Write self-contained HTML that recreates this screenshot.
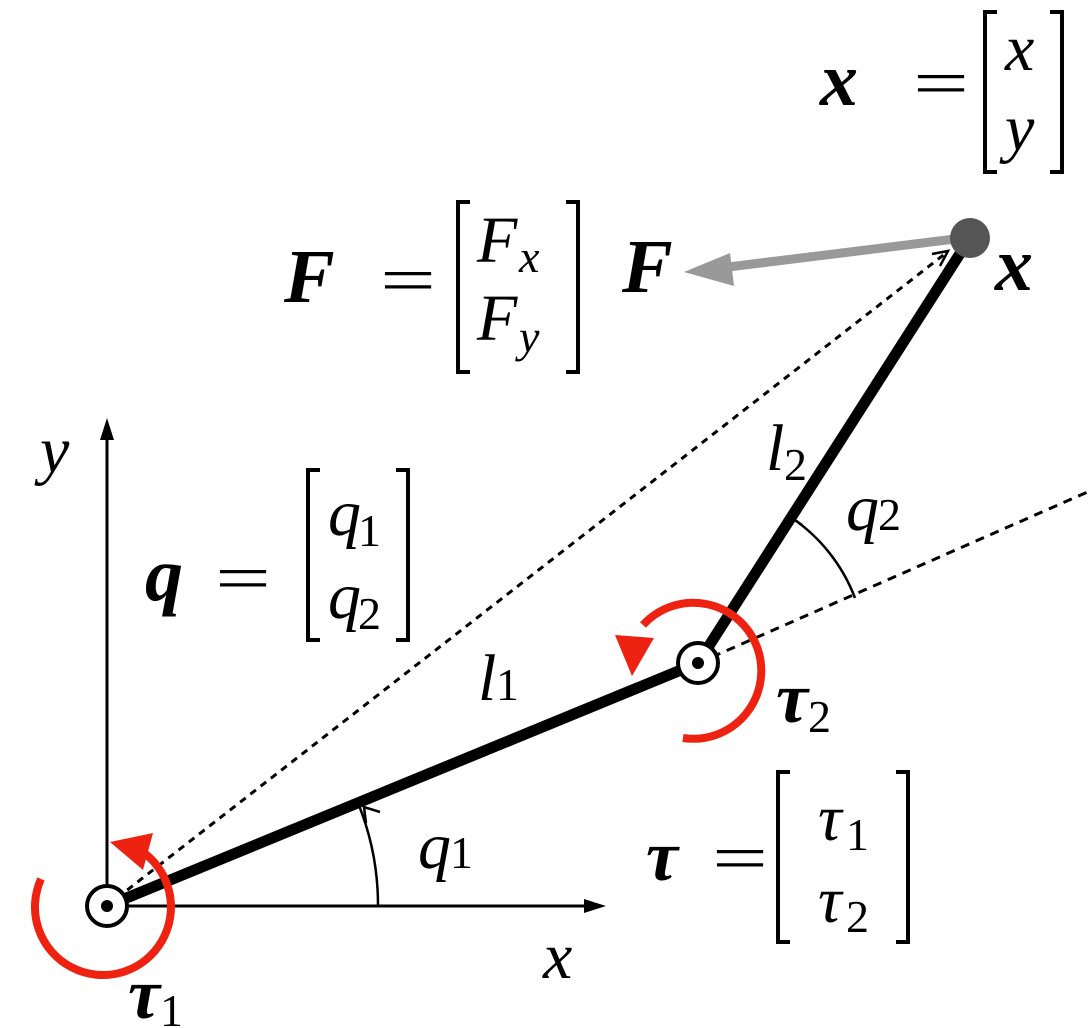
<!DOCTYPE html>
<html><head><meta charset="utf-8"><style>
html,body{margin:0;padding:0;background:#fff}
svg{display:block}
text{font-family:"Liberation Serif","DejaVu Serif",serif;font-style:italic;fill:#000}
.b{font-weight:bold}
.n{font-style:normal}
</style></head><body>
<svg width="1092" height="1028" viewBox="0 0 1092 1028" xmlns="http://www.w3.org/2000/svg">
<!-- axes -->
<line x1="107" y1="886" x2="107" y2="432" stroke="#000" stroke-width="3"/>
<polygon points="107,418 100,440 114,440" fill="#000"/>
<line x1="127" y1="906" x2="592" y2="906" stroke="#000" stroke-width="3"/>
<polygon points="606,906 584,899 584,913" fill="#000"/>
<!-- dotted lines -->
<line x1="117" y1="898" x2="946" y2="253" stroke="#000" stroke-width="3" stroke-dasharray="7,6"/>
<path d="M932,254 L948,251 L940,266" fill="none" stroke="#000" stroke-width="2.5"/>
<line x1="712" y1="657" x2="1092" y2="490" stroke="#000" stroke-width="3" stroke-dasharray="9,7"/>
<!-- links -->
<line x1="107" y1="906" x2="698" y2="663" stroke="#000" stroke-width="11"/>
<line x1="698" y1="663" x2="970" y2="238" stroke="#000" stroke-width="11"/>
<!-- angle arcs -->
<path d="M378,906 A271,271 0 0 0 358,803" fill="none" stroke="#000" stroke-width="2.5"/>
<path d="M366,823 L364,807 L380,812" fill="none" stroke="#000" stroke-width="2.5"/>
<path d="M855,598 A170,170 0 0 0 792,518" fill="none" stroke="#000" stroke-width="2.5"/>
<path d="M800,512 L792,518 L802,525" fill="none" stroke="#000" stroke-width="2.5"/>
<!-- force arrow -->
<line x1="955" y1="239" x2="720" y2="268" stroke="#999" stroke-width="9"/>
<polygon points="684,272 730,253 734,286" fill="#999"/>
<circle cx="970" cy="238" r="20" fill="#555"/>
<!-- joints -->
<circle cx="107" cy="906" r="20" fill="#fff" stroke="#000" stroke-width="4"/>
<circle cx="107" cy="906" r="6" fill="#000"/>
<circle cx="698" cy="663" r="20" fill="#fff" stroke="#000" stroke-width="4"/>
<circle cx="698" cy="663" r="6" fill="#000"/>
<!-- torques -->
<path d="M41,879 A68,68 0 1 0 140,850" fill="none" stroke="#ee2211" stroke-width="8"/>
<polygon points="110,842 153,833 143,870" fill="#ee2211"/>
<path d="M683,738 A68,68 0 1 0 643,625" fill="none" stroke="#ee2211" stroke-width="8"/>
<polygon points="632,676 615,635 654,638" fill="#ee2211"/>
<!-- brackets -->
<g fill="none" stroke="#000" stroke-width="4">
<path d="M997,12 L985,12 L985,172 L997,172"/><path d="M1050,12 L1062,12 L1062,172 L1050,172"/>
<path d="M470,202 L458,202 L458,372 L470,372"/><path d="M566,202 L578,202 L578,372 L566,372"/>
<path d="M320,470 L308,470 L308,640 L320,640"/><path d="M396,470 L408,470 L408,640 L396,640"/>
<path d="M790,772 L778,772 L778,942 L790,942"/><path d="M896,772 L908,772 L908,942 L896,942"/>
</g>
<!-- labels -->
<g font-size="66">
<text x="820" y="105" class="b" font-size="76">x</text>
<text x="913" y="105" class="n" textLength="56" lengthAdjust="spacingAndGlyphs">=</text>
<text x="1005" y="70">x</text>
<text x="1005" y="150">y</text>
<text x="284" y="302" class="b" font-size="76">F</text>
<text x="380" y="302" class="n" textLength="56" lengthAdjust="spacingAndGlyphs">=</text>
<text x="477" y="262">F</text><text x="519" y="272" font-size="46">x</text>
<text x="477" y="340">F</text><text x="519" y="352" font-size="46">y</text>
<text x="622" y="292" class="b" font-size="76">F</text>
<text x="995" y="290" class="b" font-size="76">x</text>
<text x="40" y="472">y</text>
<text x="145" y="600" class="b" font-size="76">q</text>
<text x="215" y="600" class="n" textLength="56" lengthAdjust="spacingAndGlyphs">=</text>
<text x="328" y="535">q</text><text x="358" y="546" class="n" font-size="46">1</text>
<text x="328" y="618">q</text><text x="358" y="629" class="n" font-size="46">2</text>
<text x="766" y="470">l</text><text x="784" y="480" class="n" font-size="46">2</text>
<text x="846" y="530">q</text><text x="878" y="530" class="n" font-size="46">2</text>
<text x="478" y="700">l</text><text x="496" y="700" class="n" font-size="46">1</text>
<text x="776" y="722" class="b" font-size="72">τ</text><text x="808" y="732" class="n" font-size="46">2</text>
<text x="418" y="868">q</text><text x="450" y="868" class="n" font-size="46">1</text>
<text x="646" y="880" class="b" font-size="72">τ</text>
<text x="712" y="880" class="n" textLength="56" lengthAdjust="spacingAndGlyphs">=</text>
<text x="818" y="840">τ</text><text x="846" y="850" class="n" font-size="46">1</text>
<text x="818" y="922">τ</text><text x="846" y="932" class="n" font-size="46">2</text>
<text x="543" y="978">x</text>
<text x="128" y="1018" class="b" font-size="72">τ</text><text x="160" y="1026" class="n" font-size="46">1</text>
</g>
</svg>
</body></html>
